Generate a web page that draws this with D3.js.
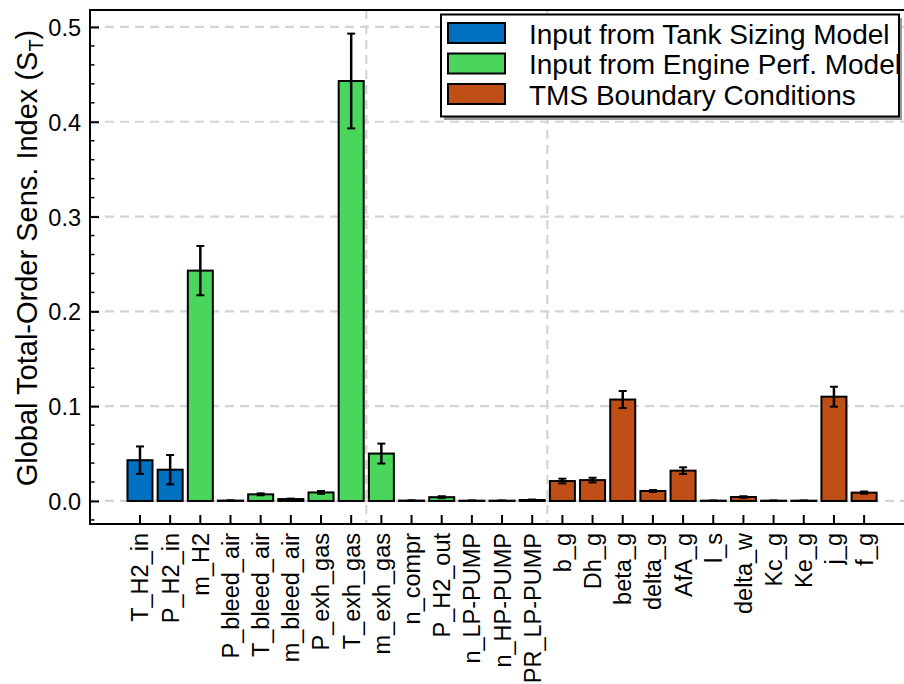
<!DOCTYPE html>
<meta charset="utf-8">
<style>
body { margin: 0; background: #fff; }
svg { font-family: "Liberation Sans", Arial, sans-serif; display: block; }
.grid line { stroke: #d4d4d4; stroke-width: 2.2; stroke-dasharray: 9,6; }
.bar { stroke: #000; stroke-width: 2; }
.err { stroke: #000; stroke-width: 2.5; }
</style>
<body>
<svg width="904" height="684"></svg>
<script src="https://d3js.org/d3.v7.min.js"></script>
<script>

var categories = ["T_H2_in", "P_H2_in", "m_H2", "P_bleed_air", "T_bleed_air", "m_bleed_air",
  "P_exh_gas", "T_exh_gas", "m_exh_gas", "n_compr", "P_H2_out", "n_LP-PUMP", "n_HP-PUMP",
  "PR_LP-PUMP", "b_g", "Dh_g", "beta_g", "delta_g", "AfA_g", "l_s", "delta_w", "Kc_g",
  "Ke_g", "j_g", "f_g"];
var groups = [0, 0, 1, 1, 1, 1, 1, 1, 1, 1, 1, 1, 1, 1, 2, 2, 2, 2, 2, 2, 2, 2, 2, 2, 2];
var values = [0.043, 0.033, 0.243, 0.0004, 0.007, 0.002, 0.009, 0.443, 0.050, 0.0004,
  0.004, 0.0003, 0.0003, 0.001, 0.021, 0.022, 0.107, 0.0105, 0.032, 0.0003, 0.0042,
  0.0003, 0.0003, 0.110, 0.0088];
var errors = [0.0145, 0.0155, 0.026, 0.0002, 0.001, 0.0005, 0.0015, 0.050, 0.0105, 0.0002,
  0.001, 0.0001, 0.0001, 0.0005, 0.0025, 0.0025, 0.009, 0.001, 0.0035, 0.0001, 0.0008,
  0.0001, 0.0001, 0.0105, 0.0012];
var groupNames = ["Input from Tank Sizing Model", "Input from Engine Perf. Model", "TMS Boundary Conditions"];
var groupColors = ["#0070c0", "#4ad65c", "#c04f17"];
var yTicks = [0, 0.1, 0.2, 0.3, 0.4, 0.5];
var separators = [7.5, 13.5];

var svg = d3.select("svg"),
    pLeft = 90, pRight = 906, pTop = 10, pBottom = 524;

var x = d3.scaleBand().domain(categories).range([124.9, 879.2])
    .paddingInner(0.171).paddingOuter(0.0855);
var y = d3.scaleLinear().domain([-0.0243, 0.5179]).range([pBottom, pTop]);
var step = x.step();
function cx(d) { return x(d) + x.bandwidth() / 2; }

// grid
var grid = svg.append("g").attr("class", "grid");
grid.selectAll(".h").data(yTicks).enter().append("line")
    .attr("x1", pLeft).attr("x2", pRight)
    .attr("y1", function(d) { return y(d); }).attr("y2", function(d) { return y(d); });
grid.selectAll(".v").data(separators).enter().append("line")
    .attr("x1", function(d) { return cx(categories[0]) + d * step; })
    .attr("x2", function(d) { return cx(categories[0]) + d * step; })
    .attr("y1", pTop).attr("y2", pBottom);

// bars
var bars = svg.append("g").selectAll("g").data(categories).enter().append("g");
bars.append("rect")
    .attr("class", "bar")
    .attr("x", function(d) { return x(d); })
    .attr("width", x.bandwidth())
    .attr("y", function(d, i) { return y(values[i]); })
    .attr("height", function(d, i) { return y(0) - y(values[i]); })
    .attr("fill", function(d, i) { return groupColors[groups[i]]; });

// error bars
bars.append("line").attr("class", "err")
    .attr("x1", cx).attr("x2", cx)
    .attr("y1", function(d, i) { return y(values[i] - errors[i]); })
    .attr("y2", function(d, i) { return y(values[i] + errors[i]); });
[-1, 1].forEach(function(s) {
  bars.append("line").attr("class", "err").style("stroke-width", 2)
      .attr("x1", function(d) { return cx(d) - 4; })
      .attr("x2", function(d) { return cx(d) + 4; })
      .attr("y1", function(d, i) { return y(values[i] + s * errors[i]); })
      .attr("y2", function(d, i) { return y(values[i] + s * errors[i]); });
});

// axes
var yAxis = svg.append("g").attr("transform", "translate(" + pLeft + ",0)")
    .call(d3.axisRight(y).tickValues(yTicks).tickSize(9).tickFormat(d3.format(".1f")));
yAxis.select(".domain").remove();
yAxis.selectAll(".tick line").attr("stroke-width", 2);
yAxis.selectAll(".tick text")
    .attr("x", -9).attr("text-anchor", "end").style("font-size", "23.5px").attr("dy", "0.36em");
var minor = d3.range(-0.02, 0.52, 0.02).filter(function(v) {
  return Math.abs(v * 10 - Math.round(v * 10)) > 1e-6;
});
svg.append("g").selectAll("line").data(minor).enter().append("line")
    .attr("x1", pLeft).attr("x2", pLeft + 4.5)
    .attr("y1", function(d) { return y(d); }).attr("y2", function(d) { return y(d); })
    .attr("stroke", "#000").attr("stroke-width", 1.5);

var xAxis = svg.append("g").attr("transform", "translate(0," + pBottom + ")")
    .call(d3.axisTop(x).tickSize(9).tickSizeOuter(0));
xAxis.select(".domain").remove();
xAxis.selectAll(".tick line").attr("stroke-width", 2);
xAxis.selectAll(".tick text")
    .attr("transform", "rotate(-90)")
    .attr("x", -9).attr("y", 0).attr("dy", "0.36em")
    .attr("text-anchor", "end").style("font-size", "23.5px");

// frame
svg.append("rect").attr("x", pLeft).attr("y", pTop)
    .attr("width", pRight - pLeft).attr("height", pBottom - pTop)
    .attr("fill", "none").attr("stroke", "#000").attr("stroke-width", 2);

// y title
var title = svg.append("text")
    .attr("transform", "translate(37,258) rotate(-90)")
    .attr("text-anchor", "middle").style("font-size", "29px")
    .text("Global Total-Order Sens. Index (S");
title.append("tspan").attr("dy", 6).style("font-size", "20px").text("T");
title.append("tspan").attr("dy", -6).text(")");

// legend
var lg = svg.append("g");
lg.append("rect").attr("x", 444).attr("y", 18).attr("width", 458).attr("height", 102).attr("fill", "#999");
lg.append("rect").attr("x", 441).attr("y", 14.5).attr("width", 458).attr("height", 102)
    .attr("fill", "#fff").attr("stroke", "#000").attr("stroke-width", 2);
var items = lg.selectAll(".item").data(groupNames).enter().append("g")
    .attr("transform", function(d, i) { return "translate(448," + (23 + i * 30.5) + ")"; });
items.append("rect").attr("width", 57).attr("height", 20)
    .attr("fill", function(d, i) { return groupColors[i]; })
    .attr("stroke", "#000").attr("stroke-width", 2);
items.append("text").attr("x", 81).attr("y", 20.5).style("font-size", "28px")
    .text(function(d) { return d; });

</script>
</body>
